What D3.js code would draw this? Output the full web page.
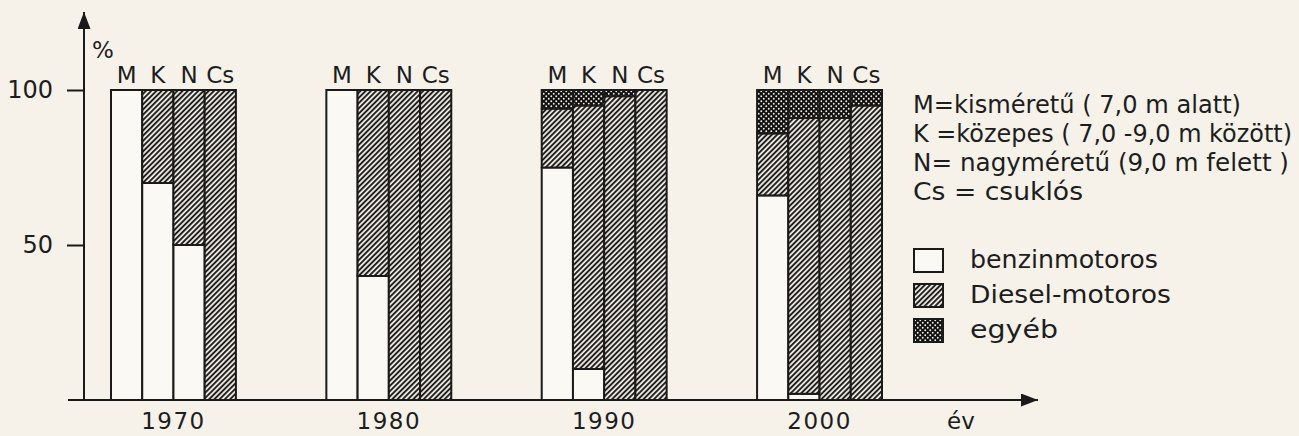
<!DOCTYPE html>
<html>
  <head>
    <meta charset="utf-8">
    <title>Autóbuszok hajtás szerint</title>
    <script src="https://cdn.jsdelivr.net/npm/d3@7"></script>
    <style type="text/css">
    body { margin: 0; background: #f6f2e9; }
    text { font-family: "DejaVu Sans", sans-serif; fill: #1d1d1d; }
    </style>
  </head>
  <body>
  <script type="text/javascript">

    // data (percent of each size class)
    var years = ["1970", "1980", "1990", "2000"];
    var sizes = ["M", "K", "N", "Cs"];
    var benzin = [[100, 70, 50, 0], [100, 40, 0, 0], [75, 10, 0, 0], [66, 2, 0, 0]];
    var diesel = [[0, 30, 50, 100], [0, 60, 100, 100], [19, 85, 98, 100], [20, 89, 91, 95]];
    var egyeb  = [[0, 0, 0, 0], [0, 0, 0, 0], [6, 5, 2, 0], [14, 9, 9, 5]];
    var yTicks = [50, 100];

    var keys = ["benzin", "diesel", "egyeb"];
    var legendLabels = ["benzinmotoros", "Diesel-motoros", "egyéb"];
    var sizeNotes = [
      "M=kisméretű ( 7,0 m  alatt)",
      "K =közepes ( 7,0 -9,0 m között)",
      "N= nagyméretű (9,0 m  felett )",
      "Cs = csuklós"
    ];

    var rows = [];
    years.forEach(function(yr, i) {
      sizes.forEach(function(s, j) {
        rows.push({year: yr, size: s, benzin: benzin[i][j], diesel: diesel[i][j], egyeb: egyeb[i][j]});
      });
    });

    var W = 1299, H = 436;
    var ink = "#1a1a1a";

    var svg = d3.select("body").append("svg")
      .attr("width", W).attr("height", H);

    var defs = svg.append("defs");

    // diagonal hatch for diesel
    var hatch = defs.append("pattern")
      .attr("id", "hatch")
      .attr("patternUnits", "userSpaceOnUse")
      .attr("width", 3.7).attr("height", 3.7)
      .attr("patternTransform", "rotate(45)");
    hatch.append("rect").attr("width", 3.7).attr("height", 3.7).attr("fill", "#f3efe6");
    hatch.append("line")
      .attr("x1", 1).attr("x2", 1).attr("y1", 0).attr("y2", 3.7)
      .attr("stroke", ink).attr("stroke-width", 1.9);

    // dotted dark fill for "egyéb"
    var dots = defs.append("pattern")
      .attr("id", "dots")
      .attr("patternUnits", "userSpaceOnUse")
      .attr("width", 5).attr("height", 5);
    dots.append("rect").attr("width", 5).attr("height", 5).attr("fill", "#111");
    dots.append("circle").attr("cx", 1.25).attr("cy", 1.25).attr("r", 0.95).attr("fill", "#f3efe6");
    dots.append("circle").attr("cx", 3.75).attr("cy", 3.75).attr("r", 0.95).attr("fill", "#f3efe6");

    var arrow = defs.append("marker")
      .attr("id", "arrow")
      .attr("viewBox", "0 0 10 10")
      .attr("refX", 10).attr("refY", 5)
      .attr("markerWidth", 17).attr("markerHeight", 13)
      .attr("markerUnits", "userSpaceOnUse")
      .attr("orient", "auto")
      .attr("preserveAspectRatio", "none");
    arrow.append("path").attr("d", "M0,0 L10,5 L0,10 Z").attr("fill", ink);

    var fills = {benzin: "#fbf9f3", diesel: "url(#hatch)", egyeb: "url(#dots)"};

    // scales
    var x0 = d3.scaleBand().domain(years).range([111, 882]).paddingInner(0.42).paddingOuter(0);
    var x1 = d3.scaleBand().domain(sizes).range([0, x0.bandwidth()]);
    var y = d3.scaleLinear().domain([0, 100]).range([400, 90]);

    var series = d3.stack().keys(keys)(rows);

    svg.append("g").selectAll("g")
      .data(series)
      .join("g")
        .attr("fill", function(d) { return fills[d.key]; })
      .selectAll("rect")
      .data(function(d) { return d.filter(function(p) { return p[1] - p[0] > 0; }); })
      .join("rect")
        .attr("x", function(d) { return x0(d.data.year) + x1(d.data.size); })
        .attr("width", x1.bandwidth())
        .attr("y", function(d) { return y(d[1]); })
        .attr("height", function(d) { return y(d[0]) - y(d[1]); })
        .attr("stroke", ink)
        .attr("stroke-width", 2);

    // size letters above the bars
    years.forEach(function(yr) {
      svg.append("g").selectAll("text")
        .data(sizes)
        .join("text")
          .attr("x", function(s) { return x0(yr) + x1(s) + x1.bandwidth() / 2; })
          .attr("y", y(100) - 7)
          .attr("text-anchor", "middle")
          .style("font-size", "23px")
          .text(function(s) { return s; });
    });

    // y axis
    var yAxis = d3.axisLeft(y).tickValues(yTicks).tickSize(17).tickPadding(14);
    var gy = svg.append("g").attr("transform", "translate(84,0)").call(yAxis);
    gy.select(".domain").remove();
    gy.selectAll(".tick line").attr("stroke", ink).attr("stroke-width", 2);
    gy.selectAll(".tick text").style("font-size", "24px").style("font-family", "DejaVu Sans").attr("fill", ink);

    svg.append("line")
      .attr("x1", 84).attr("x2", 84).attr("y1", 400).attr("y2", 12)
      .attr("stroke", ink).attr("stroke-width", 2)
      .attr("marker-end", "url(#arrow)");

    svg.append("text").attr("x", 92).attr("y", 58).style("font-size", "23px").text("%");

    // x axis
    var xAxis = d3.axisBottom(x0).tickSize(0).tickPadding(13);
    var gx = svg.append("g").attr("transform", "translate(0,400)").call(xAxis);
    gx.select(".domain").remove();
    gx.selectAll(".tick text").style("font-size", "23px").style("font-family", "DejaVu Sans")
      .style("letter-spacing", "1.5px").attr("fill", ink);

    svg.append("line")
      .attr("x1", 68).attr("x2", 1038).attr("y1", 400).attr("y2", 400)
      .attr("stroke", ink).attr("stroke-width", 2)
      .attr("marker-end", "url(#arrow)");

    svg.append("text").attr("x", 961).attr("y", 429).attr("text-anchor", "middle")
      .style("font-size", "23px").text("év");

    // size notes
    var noteWidths = [328, 379, 376, 170];
    svg.append("g").selectAll("text")
      .data(sizeNotes)
      .join("text")
        .attr("x", 913)
        .attr("y", function(d, i) { return 113 + i * 29; })
        .attr("textLength", function(d, i) { return noteWidths[i]; })
        .attr("lengthAdjust", "spacingAndGlyphs")
        .style("font-size", "24px")
        .text(function(d) { return d; });

    // legend
    var lg = svg.append("g").selectAll("g")
      .data(keys)
      .join("g")
        .attr("transform", function(d, i) { return "translate(914," + (249 + i * 35) + ")"; });
    lg.append("rect")
      .attr("width", 29).attr("height", 23)
      .attr("fill", function(d) { return fills[d]; })
      .attr("stroke", ink).attr("stroke-width", 2);
    lg.append("text")
      .attr("x", 56).attr("y", 19)
      .attr("textLength", function(d, i) { return [188, 201, 88][i]; })
      .attr("lengthAdjust", "spacingAndGlyphs")
      .style("font-size", "24px")
      .text(function(d, i) { return legendLabels[i]; });

  </script>
  </body>
</html>
